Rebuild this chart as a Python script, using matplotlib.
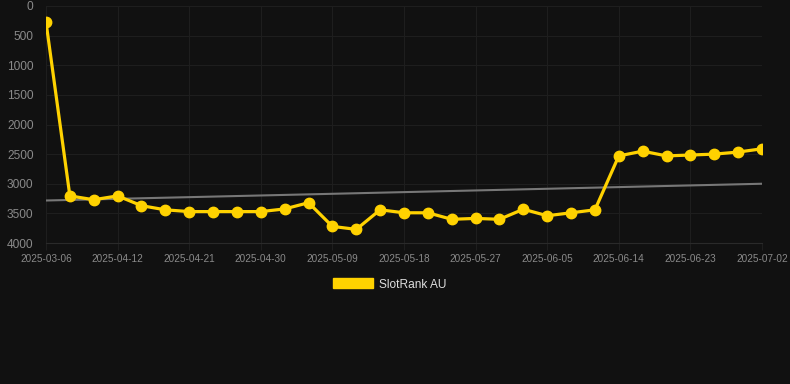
import numpy as np
import matplotlib
matplotlib.use("Agg")
import matplotlib.pyplot as plt
from matplotlib.patches import Patch

# dates (categorical axis) and rank values
dates = ["2025-03-06", "2025-04-06", "2025-04-09", "2025-04-12", "2025-04-15", "2025-04-18",
         "2025-04-21", "2025-04-24", "2025-04-27", "2025-04-30", "2025-05-03", "2025-05-06",
         "2025-05-09", "2025-05-12", "2025-05-15", "2025-05-18", "2025-05-21", "2025-05-24",
         "2025-05-27", "2025-05-30", "2025-06-02", "2025-06-05", "2025-06-08", "2025-06-11",
         "2025-06-14", "2025-06-17", "2025-06-20", "2025-06-23", "2025-06-26", "2025-06-29",
         "2025-07-02"]
ranks = [270, 3205, 3270, 3205, 3370, 3440, 3470, 3470, 3470, 3470, 3425, 3320,
         3720, 3770, 3440, 3490, 3490, 3600, 3585, 3600, 3430, 3540, 3490, 3440,
         2530, 2450, 2530, 2515, 2500, 2465, 2410]
series_name = "SlotRank AU"

bg = "#111111"
gold = "#FFD200"
txt = "#8a8a8a"
grid = "#1e1e1e"

fig = plt.figure(figsize=(7.9, 3.84), dpi=100, facecolor=bg)
ax = fig.add_axes([46 / 790, 1 - 243 / 384, (762 - 46) / 790, (243 - 6) / 384])
ax.set_facecolor(bg)

x = np.arange(len(dates))
# trend line (linear fit)
k, b = np.polyfit(x, ranks, 1)
ax.plot(x, k * x + b, color="#777777", lw=1.5, zorder=2)
ax.plot(x, ranks, color=gold, lw=2.3, marker="o", markersize=7.5, zorder=3)

ax.set_xlim(0, len(dates) - 1)
ax.set_ylim(4000, 0)
ax.set_yticks(range(0, 4001, 500))
ax.set_xticks(x[::3])
ax.set_xticklabels(dates[::3])
ax.tick_params(axis="y", colors=txt, labelsize=8.6, length=0, pad=9)
ax.tick_params(axis="x", colors=txt, labelsize=7.2, length=5, width=0.8, color=grid, pad=3)
for lab in ax.get_xticklabels() + ax.get_yticklabels():
    lab.set_fontfamily("Liberation Sans")
ax.grid(True, color=grid, lw=0.8)
for s in ax.spines.values():
    s.set_visible(False)
ax.spines["bottom"].set_visible(True)
ax.spines["bottom"].set_color("#2a2a2a")
ax.spines["bottom"].set_linewidth(0.8)

leg = fig.legend(handles=[Patch(facecolor=gold, edgecolor=gold, label=series_name)],
                 loc="center", bbox_to_anchor=(0.493, 1 - 284.5 / 384), frameon=False,
                 handlelength=3.33, handleheight=0.9, handletextpad=0.5,
                 prop={"family": "Liberation Sans", "size": 8.6})
for t in leg.get_texts():
    t.set_color("#dddddd")

fig.savefig("out.png", dpi=100, facecolor=bg)
